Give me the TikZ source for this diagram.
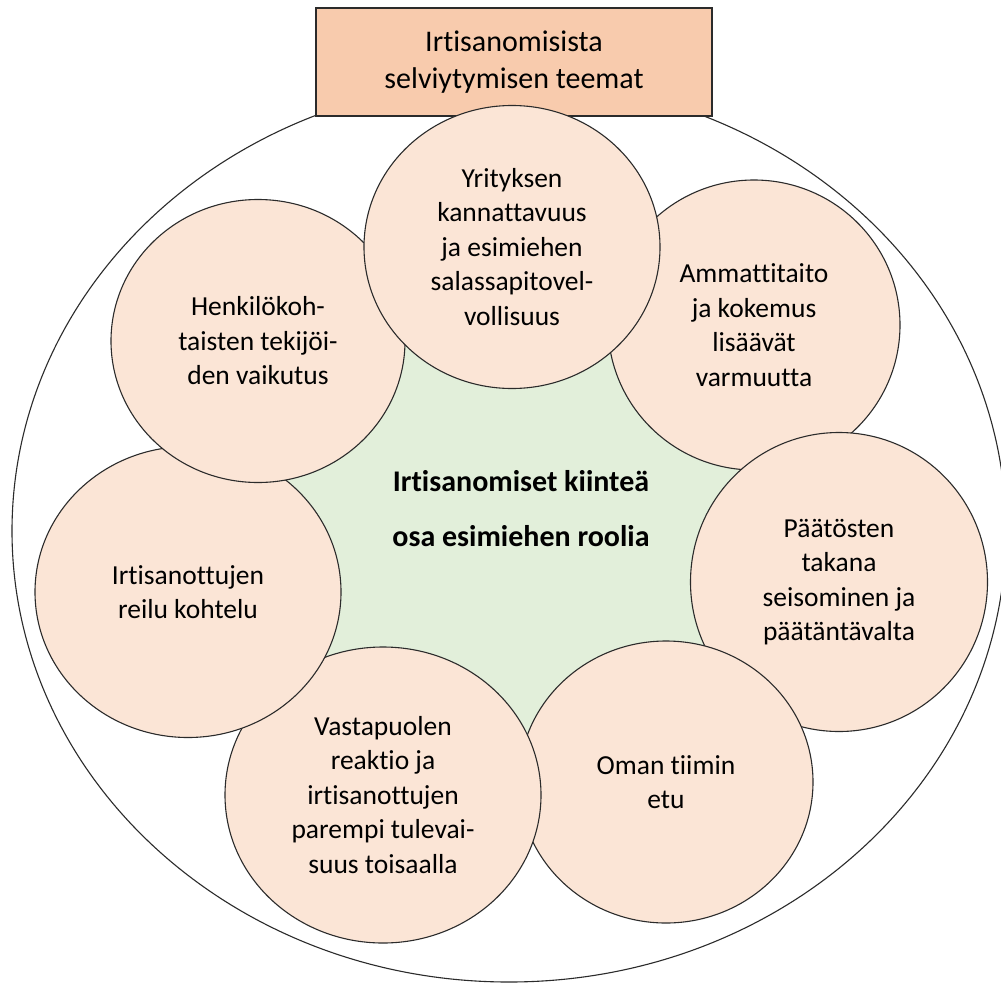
\documentclass[tikz,border=0pt]{standalone}
\usepackage{fontspec}
\setmainfont[Ligatures=NoCommon]{Carlito}
\usetikzlibrary{shapes.geometric}
\definecolor{titlefill}{HTML}{F8CBAD}
\definecolor{themefill}{HTML}{FBE5D6}
\definecolor{corefill}{HTML}{E2EFDA}
\definecolor{edge}{HTML}{2B2B2B}
\tikzset{
  theme/.style={ellipse, draw=edge, line width=1.1pt, fill=themefill, inner sep=0pt,
    align=center, font=\fontsize{27.5}{34.5}\selectfont},
  titlebox/.style={rectangle, draw=edge, line width=1.1pt, fill=titlefill, inner sep=0pt,
    minimum width=396pt, minimum height=108pt, align=center, font=\fontsize{30}{37}\selectfont},
  outer/.style={ellipse, draw=edge, line width=1.1pt, fill=white, inner sep=0pt,
    minimum width=994pt, minimum height=902pt},
}
\begin{document}
\begin{tikzpicture}[x=1pt,y=-1pt]
\useasboundingbox[fill=white] (0,0) rectangle (1001,983);

% enclosing ellipse and heading
\node[outer] (frame) at (509,531) {};
\node[titlebox] (title) at (514,62) {Irtisanomisista\\selviytymisen teemat};

% centres of the seven theme circles
\coordinate (cA) at (754,325);
\coordinate (cB) at (839,582);
\coordinate (cC) at (666,782);
\coordinate (cD) at (383,795);
\coordinate (cE) at (188,592);
\coordinate (cF) at (258,341);
\coordinate (cG) at (512,247);

% green core behind the circles
\fill[corefill] (cA) -- (cB) -- (cC) -- (cD) -- (cE) -- (cF) -- (cG) -- cycle;

% theme circles, each overlapping the previous one
\node[theme, minimum width=292pt, minimum height=290pt] (ammatti) at (cA)
  {Ammattitaito\\ja kokemus\\lisäävät\\varmuutta};
\node[theme, minimum width=297pt, minimum height=299pt] (paatos) at (cB)
  {Päätösten\\takana\\seisominen ja\\päätäntävalta};
\node[theme, minimum width=294pt, minimum height=282pt] (tiimi) at (cC)
  {Oman tiimin\\etu};
\node[theme, minimum width=316pt, minimum height=296pt] (vasta) at (cD)
  {Vastapuolen\\reaktio ja\\irtisanottujen\\parempi tulevai-\\suus toisaalla};
\node[theme, minimum width=306pt, minimum height=291pt] (reilu) at (cE)
  {Irtisanottujen\\reilu kohtelu};
\node[theme, minimum width=294pt, minimum height=283pt] (henk) at (cF)
  {Henkilökoh-\\taisten tekijöi-\\den vaikutus};
\node[theme, minimum width=296pt, minimum height=283pt] (yritys) at (cG)
  {Yrityksen\\kannattavuus\\ja esimiehen\\salassapitovel-\\vollisuus};

% core statement
\node[align=center, inner sep=0pt, font=\bfseries\fontsize{30}{55}\selectfont] (core) at (521,509)
  {Irtisanomiset kiinteä\\osa esimiehen roolia};
\end{tikzpicture}
\end{document}
